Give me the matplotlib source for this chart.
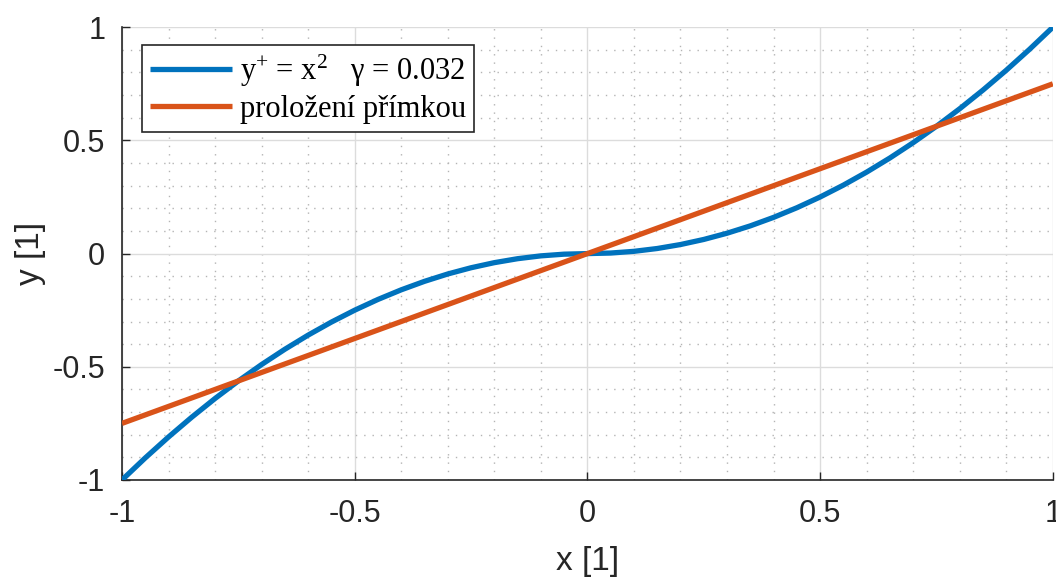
import matplotlib
matplotlib.use("Agg")
import matplotlib.pyplot as plt
from matplotlib.ticker import MultipleLocator

# sampled curve y+ = x^2 (signed) and its straight-line fit
x_curve = [-1.0, -0.95, -0.9, -0.85, -0.8, -0.75, -0.7, -0.65, -0.6, -0.55, -0.5,
           -0.45, -0.4, -0.35, -0.3, -0.25, -0.2, -0.15, -0.1, -0.05, 0.0,
           0.05, 0.1, 0.15, 0.2, 0.25, 0.3, 0.35, 0.4, 0.45, 0.5,
           0.55, 0.6, 0.65, 0.7, 0.75, 0.8, 0.85, 0.9, 0.95, 1.0]
y_curve = [-1.0, -0.9025, -0.81, -0.7225, -0.64, -0.5625, -0.49, -0.4225, -0.36, -0.3025, -0.25,
           -0.2025, -0.16, -0.1225, -0.09, -0.0625, -0.04, -0.0225, -0.01, -0.0025, 0.0,
           0.0025, 0.01, 0.0225, 0.04, 0.0625, 0.09, 0.1225, 0.16, 0.2025, 0.25,
           0.3025, 0.36, 0.4225, 0.49, 0.5625, 0.64, 0.7225, 0.81, 0.9025, 1.0]
x_fit = [-1.0, 1.0]
y_fit = [-0.75, 0.75]

ticks = [-1, -0.5, 0, 0.5, 1]
tick_labels = ["-1", "-0.5", "0", "0.5", "1"]

plt.rcParams["font.family"] = ["Liberation Sans", "DejaVu Sans"]
plt.rcParams["mathtext.fontset"] = "custom"
plt.rcParams["mathtext.rm"] = "Liberation Serif"
plt.rcParams["mathtext.it"] = "Liberation Serif:italic"

fig = plt.figure(figsize=(10.56, 5.79), dpi=100)
ax = fig.add_axes([0.1155, 0.171, 0.8815, 0.782])

ax.plot(x_curve, y_curve, color="#0072BD", lw=3.8, label="y$^{+}$ = x$^{2}$   γ = 0.032",
        solid_capstyle="butt", zorder=3)
ax.plot(x_fit, y_fit, color="#D95319", lw=3.8, label="proložení přímkou",
        solid_capstyle="butt", zorder=3)

ax.set_xlim(-1, 1)
ax.set_ylim(-1, 1)
ax.set_xticks(ticks)
ax.set_xticklabels(tick_labels)
ax.set_yticks(ticks)
ax.set_yticklabels(tick_labels)
ax.xaxis.set_minor_locator(MultipleLocator(0.1))
ax.yaxis.set_minor_locator(MultipleLocator(0.1))

ax.grid(True, which="major", color="#dcdcdc", lw=1.0, ls="-", zorder=0)
ax.grid(True, which="minor", color="#b4b4b4", lw=1.0, ls=(0, (1, 5)), zorder=0)
ax.set_axisbelow(True)

for side in ["top", "right"]:
    ax.spines[side].set_visible(False)
for side in ["left", "bottom"]:
    ax.spines[side].set_color("#262626")
    ax.spines[side].set_linewidth(1.2)

ax.tick_params(axis="both", which="major", direction="in", length=6, width=1.0,
               colors="#262626", labelsize=22, labelcolor="#262626")
ax.tick_params(axis="x", which="major", pad=14)
ax.tick_params(axis="y", which="major", pad=12)
ax.tick_params(which="minor", length=0)

ax.set_xlabel("x [1]", fontsize=24, color="#262626", labelpad=12)
ax.set_ylabel("y [1]", fontsize=24, color="#262626", labelpad=5)

leg = ax.legend(loc="upper left", bbox_to_anchor=(20 / 931, 1 - 18 / 453), borderaxespad=0,
                prop={"family": "Liberation Serif", "size": 22}, fancybox=False,
                edgecolor="#262626", framealpha=1, handlelength=2.7, handletextpad=0.25,
                labelspacing=0.2, borderpad=0.25)
leg.get_frame().set_linewidth(1.2)

fig.savefig("out.png", dpi=100)
